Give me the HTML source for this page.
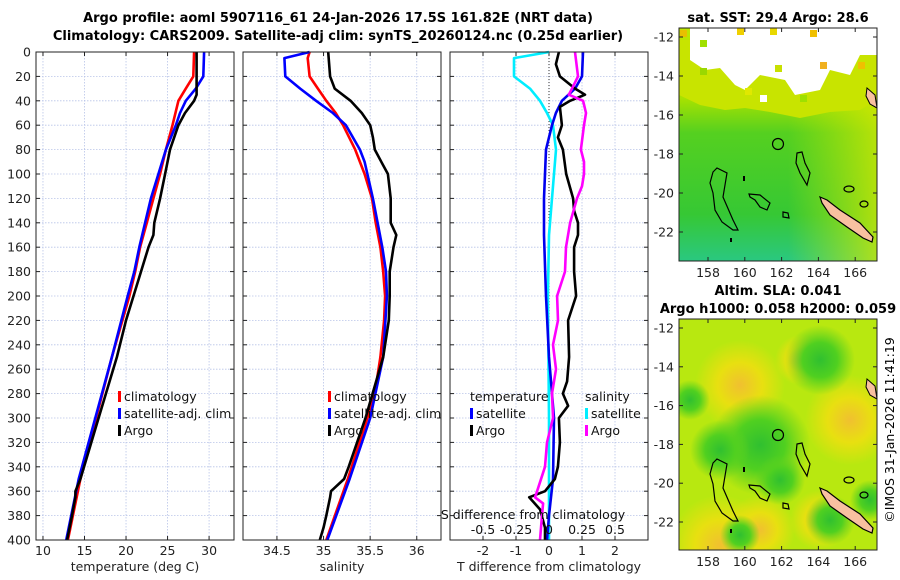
<!DOCTYPE html>
<html><head><meta charset="utf-8"><style>
html,body{margin:0;padding:0;background:#fff;}
svg{display:block;font-family:"DejaVu Sans","Liberation Sans",sans-serif;}
</style></head><body>
<svg id="fig" width="900" height="580" viewBox="0 0 900 580">
<defs>
<linearGradient id="sstg" x1="0" y1="0" x2="0" y2="1">
<stop offset="0" stop-color="#bfe600"/><stop offset="0.3" stop-color="#a8e200"/><stop offset="0.45" stop-color="#55d020"/><stop offset="0.8" stop-color="#36c834"/><stop offset="1" stop-color="#2ac880"/>
</linearGradient>
<linearGradient id="sstr" x1="0" y1="0" x2="1" y2="0">
<stop offset="0" stop-color="#5fd020" stop-opacity="0"/><stop offset="0.55" stop-color="#c8e800" stop-opacity="0"/><stop offset="1" stop-color="#d8e800" stop-opacity="0.75"/>
</linearGradient>
<radialGradient id="ylw"><stop offset="0" stop-color="#f0c030"/><stop offset="0.5" stop-color="#e8e010"/><stop offset="1" stop-color="#e8e010" stop-opacity="0"/></radialGradient>
<radialGradient id="grn"><stop offset="0" stop-color="#30c030"/><stop offset="0.5" stop-color="#50d020"/><stop offset="1" stop-color="#60d020" stop-opacity="0"/></radialGradient>
<clipPath id="c1"><rect x="679" y="28" width="198" height="233"/></clipPath>
<clipPath id="c2"><rect x="679" y="319" width="198" height="231"/></clipPath>
</defs>
<g id="titles">
<text x="338" y="22" text-anchor="middle" font-size="13" font-weight="bold">Argo profile: aoml 5907116_61 24-Jan-2026 17.5S 161.82E (NRT data)</text>
<text x="338" y="40" text-anchor="middle" font-size="13" font-weight="bold">Climatology: CARS2009. Satellite-adj clim: synTS_20260124.nc (0.25d earlier)</text>
<text x="778" y="22" text-anchor="middle" font-size="13" font-weight="bold">sat. SST: 29.4 Argo: 28.6</text>
<text x="778" y="295" text-anchor="middle" font-size="13" font-weight="bold">Altim. SLA: 0.041</text>
<text x="778" y="313" text-anchor="middle" font-size="13" font-weight="bold">Argo h1000: 0.058 h2000: 0.059</text>
<text x="894" y="430" text-anchor="middle" font-size="12.5" transform="rotate(-90 894 430)">©IMOS 31-Jan-2026 11:41:19</text>
</g>
<g id="plots"></g>
<g id="maps"></g>
</svg>
<script>
// ---- data ----
const depths = [0,5,10,20,30,35,40,45,50,60,70,80,90,100,110,120,140,150,160,180,200,220,250,270,280,290,300,320,340,350,355,360,365,370,375,380,390,400];
const climTD = [0,20,30,40,60,80,100,120,140,160,180,200,250,300,350,400];
const climT = [28.2,28.1,27.2,26.3,25.6,24.8,24.1,23.3,22.5,21.7,21.1,20.4,18.3,16.4,14.5,13.0];
const satTD = [0,20,30,40,50,60,80,100,120,140,160,180,200,250,300,350,400];
const satT = [29.4,29.3,28.4,27.2,26.5,26.0,24.8,23.9,23.0,22.3,21.6,21.0,20.2,18.3,16.3,14.3,12.8];
const argoTD = [0,35,40,50,60,80,100,120,140,150,160,180,200,220,250,300,350,355,360,365,380,400];
const argoT = [28.5,28.5,28.2,27.1,26.3,25.3,24.7,24.1,23.4,23.3,22.7,21.8,20.9,20.0,18.9,16.7,14.5,14.2,13.9,13.9,13.5,12.9];
const climSD = [0,5,20,30,40,50,60,80,100,120,140,160,180,200,220,250,280,300,350,400];
const climS = [34.85,34.83,34.85,34.94,35.03,35.13,35.21,35.34,35.44,35.52,35.56,35.61,35.64,35.66,35.65,35.61,35.55,35.47,35.26,35.03];
const satSD = [0,5,20,30,40,50,60,80,90,100,120,140,160,180,200,250,300,350,400];
const satS = [34.85,34.58,34.59,34.75,34.92,35.10,35.24,35.39,35.44,35.47,35.53,35.58,35.63,35.67,35.68,35.64,35.50,35.28,35.04];
const argoSD = [0,20,30,40,50,60,70,80,90,100,120,140,150,160,180,200,220,250,300,340,350,360,365,380,390,400];
const argoS = [35.05,35.07,35.12,35.29,35.41,35.50,35.53,35.55,35.62,35.69,35.72,35.72,35.78,35.75,35.71,35.71,35.70,35.64,35.45,35.27,35.22,35.08,35.07,35.03,35.0,34.96];
const dTsatD = [0,20,30,40,50,60,80,100,120,150,200,250,300,350,380,400];
const dTsat = [1.03,1.0,0.79,0.39,0.21,0.09,-0.09,-0.12,-0.15,-0.15,-0.09,0.0,0.15,0.12,0.0,-0.06];
const dTargoD = [0,10,20,30,35,40,45,60,70,80,100,120,130,140,150,160,180,200,220,250,270,280,290,300,320,340,350,360,365,375,390,400];
const dTargo = [0.3,0.21,0.33,0.79,1.09,0.64,0.33,0.39,0.27,0.42,0.52,0.73,0.76,0.88,0.88,0.76,0.76,0.82,0.58,0.61,0.55,0.42,0.58,0.3,0.33,0.27,0.18,-0.12,-0.6,-0.27,-0.12,-0.12];
const dSsatD = [0,5,20,30,40,50,60,80,100,120,150,200,300,400];
const dSsat = [0,-0.265,-0.265,-0.144,-0.068,-0.015,0.03,0.053,0.038,0.023,0,-0.008,0,0];
const dSargoD = [0,20,30,35,40,50,60,80,90,100,110,120,140,160,180,200,220,240,260,280,300,320,340,360,365,370,380,400];
const dSargo = [0.197,0.22,0.174,0.15,0.258,0.28,0.265,0.242,0.265,0.265,0.25,0.212,0.16,0.129,0.121,0.061,0.068,0.03,0.053,0.023,0.03,-0.015,-0.03,-0.09,-0.106,-0.045,-0.053,-0.068];
const depthTicks = [0,20,40,60,80,100,120,140,160,180,200,220,240,260,280,300,320,340,360,380,400];
const tTicks = [10,15,20,25,30];
const sTicks = [34.5,35,35.5,36];
const dTTicks = [-2,-1,0,1,2];
const dSTicks = [-0.5,-0.25,0,0.25,0.5];
const dSTickLabels = ['-0.5','-0.25','0','0.25','0.5'];
const lonTicks = [158,160,162,164,166];
const latTicks = [-12,-14,-16,-18,-20,-22];

const NS='http://www.w3.org/2000/svg';
function mk(tag,attrs,parent,txt){const e=document.createElementNS(NS,tag);for(const k in attrs)e.setAttribute(k,attrs[k]);if(txt!==undefined)e.textContent=txt;parent.appendChild(e);return e;}
const Y0=52,Y1=540;
const yScale=d=>Y0+(d/400)*(Y1-Y0);
const plots=document.getElementById('plots');

function panel(name,x0,x1,xmin,xmax){
  const g=mk('g',{},plots);
  
  
  const xs=v=>x0+(v-xmin)/(xmax-xmin)*(x1-x0);
  return {g,xs,x0,x1};
}
function grid(p,xticks,labels,showY){
  xticks.forEach((t,i)=>{
    const x=p.xs(t);
    mk('line',{x1:x,x2:x,y1:Y0,y2:Y1,stroke:'#b8c4e8','stroke-width':0.8,'stroke-dasharray':'1.5,1.5'},p.g);
    mk('line',{x1:x,x2:x,y1:Y1,y2:Y1-4,stroke:'#222'},p.g);
    mk('line',{x1:x,x2:x,y1:Y0,y2:Y0+4,stroke:'#222'},p.g);
    if(labels){const t2=mk('text',{x:x,y:Y1+15,'text-anchor':'middle','font-size':12.5,fill:'#222'},p.g,labels[i]);
      
      }
  });
  depthTicks.forEach(d=>{
    const y=yScale(d);
    mk('line',{x1:p.x0,x2:p.x1,y1:y,y2:y,stroke:'#b8c4e8','stroke-width':0.8,'stroke-dasharray':'1.5,1.5'},p.g);
    mk('line',{x1:p.x0,x2:p.x0+4,y1:y,y2:y,stroke:'#222'},p.g);
    mk('line',{x1:p.x1,x2:p.x1-4,y1:y,y2:y,stroke:'#222'},p.g);
    if(showY){const t=mk('text',{x:p.x0-5,y:y+4.5,'text-anchor':'end','font-size':12.5,fill:'#222'},p.g,String(d));
      
      }
  });
}
function frame(p){mk('rect',{x:p.x0,y:Y0,width:p.x1-p.x0,height:Y1-Y0,fill:'none',stroke:'#222','stroke-width':1},p.g);}
function line(p,ds,vs,color,name,f){
  const pts=ds.map((d,i)=>(f?f(vs[i]):p.xs(vs[i])).toFixed(1)+','+yScale(d).toFixed(1)).join(' ');
  const l=mk('polyline',{points:pts,fill:'none',stroke:color,'stroke-width':2.6,'stroke-linejoin':'round'},p.g);
  
  
}
function legend(p,x,entries){
  entries.forEach((e,i)=>{
    const y=400+i*17;
    if(e.c) mk('rect',{x:x,y:y-9,width:3,height:11,fill:e.c},p.g);
    const t=mk('text',{x:x+(e.c?6:0),y:y+1,'font-size':12.5,fill:'#111'},p.g,e.t);
    
    
  });
}
const p1=panel('temperature-panel',36,234,9.16,33.0);
grid(p1,tTicks,tTicks.map(String),true);
line(p1,climTD,climT,'#ff0000','climatology-temperature-line');
line(p1,satTD,satT,'#0000ff','satellite-temperature-line');
line(p1,argoTD,argoT,'#000','argo-temperature-line');
frame(p1);
legend(p1,118,[{c:'#f00',t:'climatology'},{c:'#00f',t:'satellite-adj. clim'},{c:'#000',t:'Argo'}]);
let xl=mk('text',{x:135,y:571,'text-anchor':'middle','font-size':12.5,fill:'#222'},p1.g,'temperature (deg C)');


const p2=panel('salinity-panel',243,441,34.136,36.26);
grid(p2,sTicks,sTicks.map(String),false);
line(p2,climSD,climS,'#ff0000','climatology-salinity-line');
line(p2,satSD,satS,'#0000ff','satellite-salinity-line');
line(p2,argoSD,argoS,'#000','argo-salinity-line');
frame(p2);
legend(p2,328,[{c:'#f00',t:'climatology'},{c:'#00f',t:'satellite-adj. clim'},{c:'#000',t:'Argo'}]);
xl=mk('text',{x:342,y:571,'text-anchor':'middle','font-size':12.5,fill:'#222'},p2.g,'salinity');


const p3=panel('difference-panel',450,648,-3,3);
grid(p3,dTTicks,dTTicks.map(String),false);
mk('line',{x1:p3.xs(0),x2:p3.xs(0),y1:Y0,y2:Y1,stroke:'#333','stroke-width':1,'stroke-dasharray':'1,2'},p3.g);
const sx=v=>p3.xs(v*4);
line(p3,dSsatD,dSsat,'#00eeff','salinity-satellite-diff-line',sx);
line(p3,dTsatD,dTsat,'#0000ee','temperature-satellite-diff-line');
line(p3,dTargoD,dTargo,'#000','temperature-argo-diff-line');
line(p3,dSargoD,dSargo,'#ff00ff','salinity-argo-diff-line',sx);
frame(p3);
legend(p3,470,[{c:null,t:'temperature'},{c:'#00f',t:'satellite'},{c:'#000',t:'Argo'}]);
legend(p3,585,[{c:null,t:'salinity'},{c:'#00eeff',t:'satellite'},{c:'#ff00ff',t:'Argo'}]);
let st=mk('text',{x:533,y:519,'text-anchor':'middle','font-size':12.5,fill:'#111'},p3.g,'S difference from climatology');


dSTicks.forEach((v,i)=>{const t=mk('text',{x:sx(v),y:534,'text-anchor':'middle','font-size':12.5,fill:'#111'},p3.g,dSTickLabels[i]);
  
  });
xl=mk('text',{x:549,y:571,'text-anchor':'middle','font-size':12.5,fill:'#222'},p3.g,'T difference from climatology');



const maps=document.getElementById('maps');
const lonX=lon=>708+(lon-158)*18.4;
function coast(g,dy){
  const cg=mk('g',{transform:'translate(0,'+dy+')'},g);
  mk('polygon',{points:'717,168 727,173 723,197 733,220 738,230 733,230 722,222 715,210 713,193 710,183 713,172',fill:'none',stroke:'#000','stroke-width':1.2},cg);
  mk('polygon',{points:'749,194 760,195 770,203 767,210 760,207 755,200 750,197',fill:'none',stroke:'#000','stroke-width':1.2},cg);
  mk('polygon',{points:'783,212 788,213 789,218 783,217',fill:'none',stroke:'#000','stroke-width':1.2},cg);
  mk('polygon',{points:'797,153 802,152 805,163 810,173 807,185 800,173 796,163',fill:'none',stroke:'#000','stroke-width':1.2},cg);
  mk('polygon',{points:'820,197 827,200 840,210 860,223 873,237 872,242 863,238 847,227 830,215 822,203',fill:'#f8c0a0',stroke:'#000','stroke-width':1.2},cg);
  mk('polygon',{points:'867,88 875,95 877,108 870,104 866,96',fill:'#f8c0a0',stroke:'#000','stroke-width':1},cg);
  mk('ellipse',{cx:849,cy:189,rx:5,ry:3,fill:'none',stroke:'#000','stroke-width':1.2},cg);
  mk('ellipse',{cx:864,cy:204,rx:4,ry:3,fill:'none',stroke:'#000','stroke-width':1.2},cg);
  mk('rect',{x:743,y:176,width:2,height:5,fill:'#000'},cg);
  mk('rect',{x:730,y:238,width:2,height:4,fill:'#000'},cg);
  mk('circle',{cx:778,cy:144,r:5.5,fill:'none',stroke:'#000','stroke-width':1.2},cg);
}
function mapAxes(g,y0,y1,lat12){
  const latY=lat=>lat12+(-12-lat)*((lat12===37)?19.5:19.4);
  mk('rect',{x:679,y:y0,width:198,height:y1-y0,fill:'none',stroke:'#222','stroke-width':1},g);
  lonTicks.forEach(l=>{const x=lonX(l);
    mk('line',{x1:x,x2:x,y1:y1,y2:y1-4,stroke:'#222'},g);
    mk('line',{x1:x,x2:x,y1:y0,y2:y0+4,stroke:'#222'},g);
    const t=mk('text',{x:x,y:y1+16,'text-anchor':'middle','font-size':12.5,fill:'#222'},g,String(l));
    
    });
  latTicks.forEach(l=>{const y=latY(l);
    mk('line',{x1:679,x2:683,y1:y,y2:y,stroke:'#222'},g);
    mk('line',{x1:877,x2:873,y1:y,y2:y,stroke:'#222'},g);
    const t=mk('text',{x:674,y:y+4.5,'text-anchor':'end','font-size':12.5,fill:'#222'},g,String(l));
    
    });
}
const m1=mk('g',{},maps);


const m1c=mk('g',{'clip-path':'url(#c1)'},m1);
mk('rect',{x:679,y:28,width:198,height:233,fill:'url(#sstg)'},m1c);
mk('rect',{x:679,y:28,width:198,height:233,fill:'url(#sstr)'},m1c);
mk('polygon',{points:'679,40 877,40 877,100 860,110 830,112 800,118 770,112 745,108 725,110 700,105 679,95',fill:'#c8e400'},m1c);
mk('polygon',{points:'690,28 877,28 877,55 860,55 850,75 830,70 820,90 795,95 785,80 760,75 745,90 735,85 720,68 705,70 690,60',fill:'#fff'},m1c);
[[680,30,'#e8c000'],[737,28,'#f0d000'],[770,28,'#e8d800'],[810,30,'#f0c000'],[820,62,'#f0b020'],[858,62,'#f0c000'],[700,68,'#9ad800'],[760,95,'#ffffff'],[775,65,'#c8e000'],[700,40,'#a0e000'],[745,88,'#e0e800'],[800,95,'#9ee000']].forEach(c=>mk('rect',{x:c[0],y:c[1],width:7,height:7,fill:c[2]},m1c));
coast(m1c,0);
mapAxes(m1,28,261,37);
const m2=mk('g',{},maps);


const m2c=mk('g',{'clip-path':'url(#c2)'},m2);
mk('rect',{x:679,y:319,width:198,height:231,fill:'#b8e810'},m2c);
[[740,385,45,'ylw'],[720,545,50,'ylw'],[760,530,35,'ylw'],[850,420,45,'ylw'],[820,520,30,'ylw'],[800,360,25,'ylw'],
 [820,360,35,'grn'],[760,445,50,'grn'],[690,400,20,'grn'],[720,450,30,'grn'],[830,520,25,'grn'],[740,535,20,'grn'],[870,500,20,'grn'],[780,480,25,'grn']]
 .forEach(b=>mk('circle',{cx:b[0],cy:b[1],r:b[2],fill:'url(#'+b[3]+')'},m2c));
coast(m2c,291);
mapAxes(m2,319,550,328);
</script>
</body></html>
